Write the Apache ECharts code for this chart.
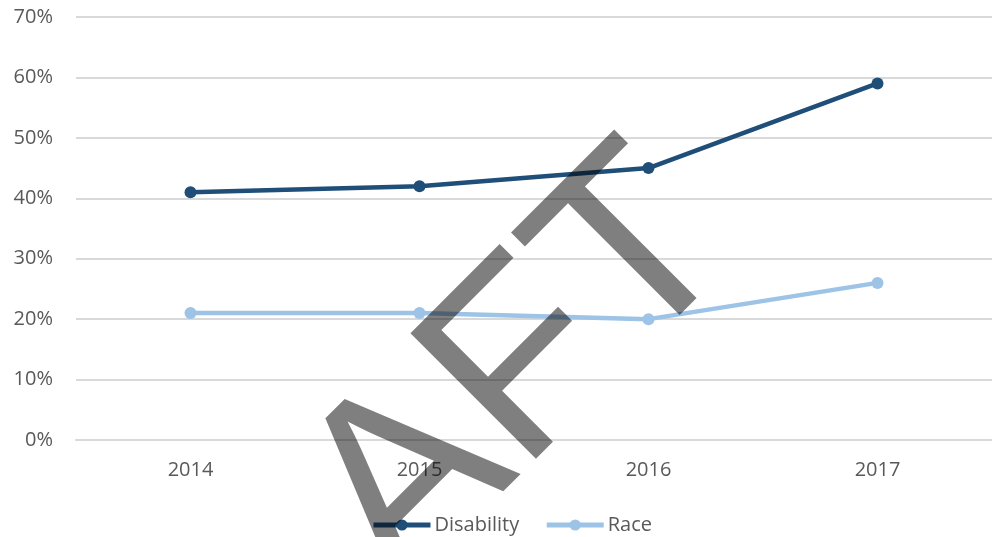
<!DOCTYPE html>
<html>
<head>
<meta charset="utf-8">
<script src="https://cdn.jsdelivr.net/npm/echarts@6/dist/echarts.min.js"></script>
<style>
  html, body { margin: 0; padding: 0; background: #ffffff; }
  #chart { width: 992px; height: 537px; }
</style>
</head>
<body>
<div id="chart"></div>
<script>
// Share of cases by year
const years = ['2014', '2015', '2016', '2017'];
const disability = [41, 42, 45, 59];
const race = [21, 21, 20, 26];
const yTicks = [0, 10, 20, 30, 40, 50, 60, 70];

// Diagonal stamp; its first two letters run off the bottom edge of the canvas,
// so only the trailing part is drawn.
const watermark = 'DRAFT';

const labelFont = '"Open Sans", "Noto Sans", sans-serif';
const labelColor = '#595959';
const gridColor = '#d9d9d9';

const chart = echarts.init(document.getElementById('chart'), null, { renderer: 'canvas' });

chart.setOption({
  animation: false,
  backgroundColor: '#ffffff',
  grid: { left: 76, right: 0, top: 17, bottom: 97, containLabel: false },
  legend: {
    top: 510,
    left: 366,
    itemWidth: 57,
    itemHeight: 14,
    itemGap: 25,
    textStyle: { fontFamily: labelFont, fontSize: 20, color: labelColor, padding: [0, 0, 0, -1] },
    data: [
      { name: 'Disability', lineStyle: { width: 5 } },
      { name: 'Race', lineStyle: { width: 5 } }
    ]
  },
  xAxis: {
    type: 'category',
    data: years,
    boundaryGap: true,
    axisLine: { show: true, lineStyle: { color: gridColor, width: 2 } },
    axisTick: { show: false },
    axisLabel: { fontFamily: labelFont, fontSize: 20, color: labelColor, margin: 20 }
  },
  yAxis: {
    type: 'value',
    min: yTicks[0],
    max: yTicks[yTicks.length - 1],
    interval: 10,
    axisLine: { show: false },
    axisTick: { show: false },
    splitLine: { lineStyle: { color: gridColor, width: 2 } },
    axisLabel: {
      fontFamily: labelFont, fontSize: 20, color: labelColor, margin: 23,
      formatter: v => v + '%'
    }
  },
  series: [
    {
      name: 'Disability',
      type: 'line',
      data: disability,
      symbol: 'circle',
      symbolSize: 12,
      lineStyle: { color: '#1f4e79', width: 4.5 },
      itemStyle: { color: '#1f4e79' },
      z: 3
    },
    {
      name: 'Race',
      type: 'line',
      data: race,
      symbol: 'circle',
      symbolSize: 12,
      lineStyle: { color: '#9dc3e6', width: 4.5 },
      itemStyle: { color: '#9dc3e6' },
      z: 2
    }
  ],
  graphic: [
    {
      type: 'text',
      x: 349,
      y: 545,
      rotation: Math.PI / 4,
      z: 100,
      silent: true,
      style: {
        text: watermark.slice(2),
        fontFamily: '"Liberation Sans", Arial, sans-serif',
        fontSize: 258,
        fill: 'rgba(0,0,0,0.5)',
        align: 'left',
        verticalAlign: 'middle'
      }
    }
  ]
});
</script>
</body>
</html>
